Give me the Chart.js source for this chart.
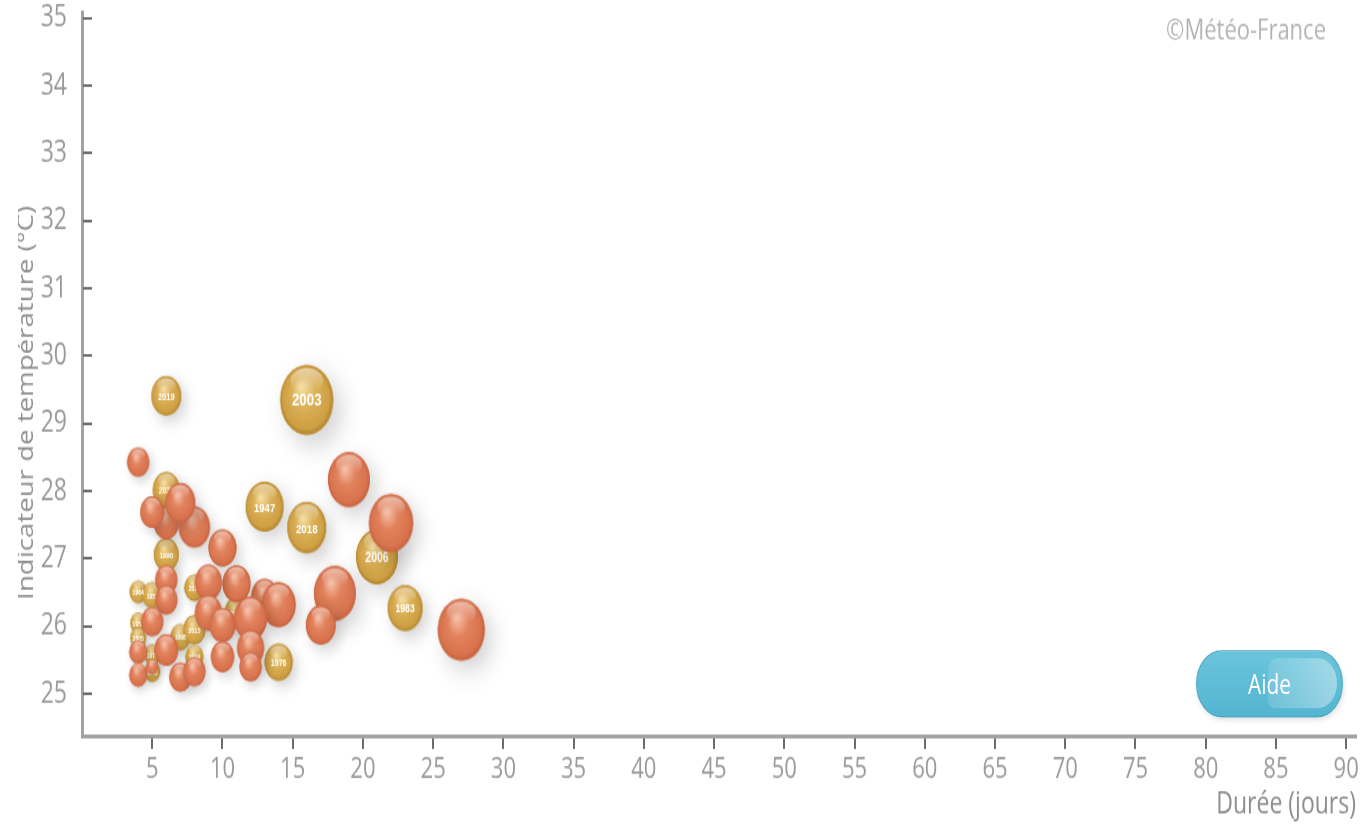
<!DOCTYPE html>
<html lang="fr">
<head>
<meta charset="utf-8">
<title>Vagues de chaleur</title>
<script src="https://cdn.jsdelivr.net/npm/chart.js@4.4.1/dist/chart.umd.min.js"></script>
<style>
	html, body { margin: 0; padding: 0; background: #fff; overflow: hidden; }
	/* the original picture is stretched vertically, so the whole chart is too */
	#wrap { position: absolute; left: 0; top: 0; width: 1361px; height: 626px; transform: scaleY(1.3163); transform-origin: 0 0; }
	#chart { display: block; }
	#aide {
		position: absolute; left: 1196px; top: 494px; width: 147px; height: 51px;
		box-sizing: border-box; border-radius: 26px;
		background: linear-gradient(#6ac4dc, #54b5d0);
		border: 1px solid #4ea8c3;
		color: #fff; font: 21px "Open Sans", sans-serif; line-height: 49px; text-align: center;
		box-shadow: 1px 2px 5px rgba(0, 0, 0, 0.12);
	}
	#aide::after {
		content: ""; position: absolute; left: 71px; top: 5px; width: 69px; height: 38px;
		border-radius: 10px 20px 20px 6px;
		background: linear-gradient(90deg, rgba(255, 255, 255, 0.12), rgba(255, 255, 255, 0.4));
	}
	#aide span { position: relative; z-index: 1; }
</style>
</head>
<body>
<div id="wrap">
	<canvas id="chart" width="1361" height="626"></canvas>
	<div id="aide"><span>Aide</span></div>
</div>
<script>
// vagues de chaleur marquantes (bulles dorées, avec l'année)
const goldYears = ["2019", "2003", "1947", "2018", "2006", "1983", "1976", "2020", "1990", "1964", "1952", "2017", "1957", "2005", "1975", "1998", "2015", "1994", "2016", "1968"]
const goldDuration = [6, 16, 13, 16, 21, 23, 14, 6, 6, 4, 5, 8, 4, 4, 5, 7, 8, 8, 11, 5]
const goldIndicator = [29.41, 29.35, 27.77, 27.46, 27.03, 26.27, 25.47, 28.02, 27.06, 26.51, 26.46, 26.57, 26.05, 25.83, 25.58, 25.84, 25.95, 25.55, 26.2, 25.33]
const goldSeverity = [33, 104, 53, 56, 65, 45, 29, 27, 23, 11, 15, 15, 9, 9, 9, 15, 18, 12, 21, 9]

// autres vagues de chaleur (bulles orangées)
const otherDuration = [4, 6, 5, 8, 7, 10, 19, 22, 18, 17, 27, 13, 14, 11, 9, 9, 10, 12, 6, 6, 5, 6, 4, 4, 5, 7, 8, 10, 12, 12]
const otherIndicator = [28.43, 27.53, 27.69, 27.47, 27.83, 27.16, 28.17, 27.53, 26.49, 26.02, 25.95, 26.44, 26.32, 26.63, 26.65, 26.2, 26.02, 26.12, 26.69, 26.39, 26.07, 25.65, 25.62, 25.28, 25.4, 25.25, 25.33, 25.55, 25.68, 25.4]
const otherSeverity = [18, 23, 21, 36, 33, 29, 65, 72, 65, 33, 82, 27, 43, 29, 27, 27, 25, 40, 18, 18, 18, 21, 12, 12, 5, 18, 18, 20, 27, 18]

// axes
const xTicks = [5, 10, 15, 20, 25, 30, 35, 40, 45, 50, 55, 60, 65, 70, 75, 80, 85, 90]
const yTicks = [25, 26, 27, 28, 29, 30, 31, 32, 33, 34, 35]

const FONT = "'Open Sans', sans-serif"
const GREY = "#9a9a9a"

const orange = { light: "#f5bba2", base: "#e2835d", mid: "#d8734e", dark: "#c2603d" }
const gold = { light: "#f4dc9c", base: "#dcb158", mid: "#cfa044", dark: "#ac8028" }

// severity -> bubble radius
const radiusOf = s => 2.6 * Math.sqrt(s)

const toPoints = (xs, ys, ss) => xs.map((x, i) => ({ x: x, y: ys[i], r: radiusOf(ss[i]) }))

// shaded spheres used as point styles
const sprites = {}
function sphere(r, pal) {
	const key = pal.base + r.toFixed(2)
	if (sprites[key]) return sprites[key]
	const pad = Math.ceil(r * 1.4) + 4
	const size = Math.ceil(2 * (r + pad))
	const c = document.createElement("canvas")
	c.width = size
	c.height = size
	const g = c.getContext("2d")
	const cx = size / 2
	const cy = size / 2

	g.save()
	g.shadowColor = "rgba(0, 0, 0, 0.2)"
	g.shadowBlur = r * 0.9
	g.shadowOffsetX = r * 0.3
	g.shadowOffsetY = r * 0.3
	g.beginPath()
	g.arc(cx, cy, r, 0, Math.PI * 2)
	g.fillStyle = pal.base
	g.fill()
	g.restore()

	const body = g.createRadialGradient(cx - r * 0.2, cy - r * 0.35, r * 0.05, cx, cy, r * 1.02)
	body.addColorStop(0, pal.light)
	body.addColorStop(0.4, pal.base)
	body.addColorStop(0.85, pal.mid)
	body.addColorStop(1, pal.dark)
	g.beginPath()
	g.arc(cx, cy, r, 0, Math.PI * 2)
	g.fillStyle = body
	g.fill()

	// glossy cap
	const cap = g.createLinearGradient(0, cy - r * 0.9, 0, cy - r * 0.25)
	cap.addColorStop(0, "rgba(255,255,255,0.5)")
	cap.addColorStop(1, "rgba(255,255,255,0)")
	g.beginPath()
	g.ellipse(cx, cy - r * 0.55, r * 0.62, r * 0.36, 0, 0, Math.PI * 2)
	g.fillStyle = cap
	g.fill()

	sprites[key] = c
	return c
}

const yearLabels = {
	id: "yearLabels",
	afterDatasetDraw(chart, args) {
		if (args.index !== 1) return
		const ctx = chart.ctx
		ctx.save()
		ctx.fillStyle = "#fff"
		ctx.textAlign = "center"
		ctx.textBaseline = "middle"
		args.meta.data.forEach((pt, i) => {
			const r = radiusOf(goldSeverity[i])
			ctx.font = `bold ${Math.max(5, r * 0.5).toFixed(1)}px 'Liberation Sans', sans-serif`
			ctx.fillText(goldYears[i], pt.x, pt.y + 1)
		})
		ctx.restore()
	},
}

const decorations = {
	id: "decorations",
	afterDraw(chart) {
		const ctx = chart.ctx
		const ys = chart.scales.y

		// inward tick marks on the vertical axis
		ctx.save()
		ctx.strokeStyle = "#6c6c6c"
		ctx.lineWidth = 2
		ctx.beginPath()
		ys.ticks.forEach((t, i) => {
			const py = Math.round(ys.getPixelForTick(i))
			ctx.moveTo(ys.right + 1, py)
			ctx.lineTo(ys.right + 10, py)
		})
		ctx.stroke()
		ctx.restore()

		// vertical axis title, cut on its left side like in the original
		ctx.save()
		ctx.beginPath()
		ctx.rect(18, 0, 60, chart.height)
		ctx.clip()
		ctx.translate(33, 306)
		ctx.rotate(-Math.PI / 2)
		ctx.fillStyle = "#8f8f8f"
		ctx.font = `21px ${FONT}`
		ctx.textAlign = "center"
		ctx.textBaseline = "alphabetic"
		ctx.fillText("Indicateur de température (°C)", 0, 0)
		ctx.restore()

		// copyright
		ctx.save()
		ctx.fillStyle = "#b4b4b4"
		ctx.font = `22px ${FONT}`
		ctx.textAlign = "right"
		ctx.textBaseline = "middle"
		ctx.fillText("©Météo-France", 1326, 24)
		ctx.restore()
	},
}

const keepTicks = list => scale => {
	scale.ticks = list.map(v => ({ value: v }))
}

// no extra room for the end labels: the chart area is placed by the layout padding
const noEdgePadding = s => {
	s.paddingLeft = 0
	s.paddingRight = 0
	s.paddingTop = 0
	s.paddingBottom = 0
}

new Chart(document.querySelector("#chart"), {
	type: "bubble",
	data: {
		datasets: [
			{
				label: "Autres vagues de chaleur",
				data: toPoints(otherDuration, otherIndicator, otherSeverity),
				pointStyle: c => sphere(c.raw.r, orange),
				backgroundColor: orange.base,
			},
			{
				label: "Vagues de chaleur marquantes",
				data: toPoints(goldDuration, goldIndicator, goldSeverity),
				pointStyle: c => sphere(c.raw.r, gold),
				backgroundColor: gold.base,
			},
		],
	},
	options: {
		responsive: false,
		devicePixelRatio: 1,
		animation: false,
		events: [],
		layout: { autoPadding: false, padding: { top: 9, right: 5, left: 0, bottom: 0 } },
		plugins: {
			legend: { display: false },
			tooltip: { enabled: false },
		},
		scales: {
			x: {
				type: "linear",
				min: 0,
				max: 90.7,
				afterBuildTicks: keepTicks(xTicks),
				afterFit: s => {
					s.height = 67
					noEdgePadding(s)
				},
				ticks: { color: GREY, font: { family: FONT, size: 22 }, padding: 3, maxRotation: 0, autoSkip: false },
				grid: { drawOnChartArea: false, tickLength: 10, color: "#6c6c6c", lineWidth: 2 },
				border: { color: "#a2a2a2", width: 3 },
				title: {
					display: true,
					text: "Durée (jours)",
					align: "end",
					color: "#8d8d8d",
					font: { family: FONT, size: 23 },
					padding: { top: 0, bottom: 1 },
				},
			},
			y: {
				type: "linear",
				min: 24.38,
				max: 35.09,
				afterBuildTicks: keepTicks(yTicks),
				afterFit: s => {
					s.width = 82
					noEdgePadding(s)
				},
				ticks: { color: GREY, font: { family: FONT, size: 23 }, padding: 15 },
				grid: { display: false, drawTicks: false },
				border: { color: "#a2a2a2", width: 3 },
			},
		},
	},
	plugins: [yearLabels, decorations],
})
</script>
</body>
</html>
